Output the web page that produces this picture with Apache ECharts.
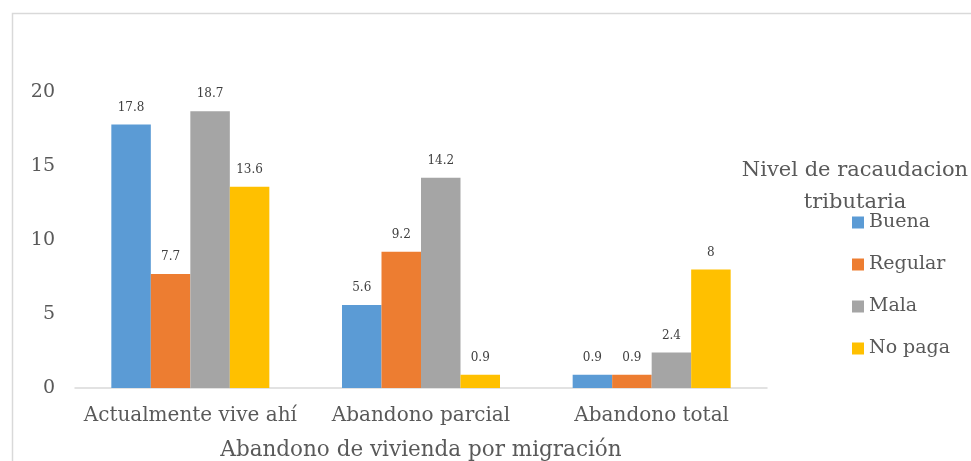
<!DOCTYPE html>
<html>
<head>
<meta charset="utf-8">
<script src="https://cdn.jsdelivr.net/npm/echarts@6/dist/echarts.min.js"></script>
<style>
  html, body { margin: 0; padding: 0; background: #fff; }
  #main { width: 971px; height: 461px; }
</style>
</head>
<body>
<div id="main"></div>
<script>
var categories = ['Actualmente vive ahí', 'Abandono parcial', 'Abandono total'];
var seriesNames = ['Buena', 'Regular', 'Mala', 'No paga'];
var buena = [17.8, 5.6, 0.9];
var regular = [7.7, 9.2, 0.9];
var mala = [18.7, 14.2, 2.4];
var noPaga = [13.6, 0.9, 8];
var colors = ['#5B9BD5', '#ED7D31', '#A5A5A5', '#FFC000'];
var font = 'DejaVu Serif';

var myChart = echarts.init(document.getElementById('main'));

function bar(name, data, color) {
  return {
    name: name,
    type: 'bar',
    data: data,
    barGap: 0,
    barCategoryGap: '31.5%',
    itemStyle: { color: color },
    label: {
      show: true,
      position: 'top',
      distance: 11,
      color: '#404040',
      fontFamily: font,
      fontSize: 12
    }
  };
}

myChart.setOption({
  animation: false,
  title: {
    text: 'Nivel de racaudacion\ntributaria',
    left: 850,
    top: 150,
    textAlign: 'center',
    textStyle: {
      color: '#595959',
      fontFamily: font,
      fontSize: 21,
      fontWeight: 'normal',
      lineHeight: 32
    }
  },
  legend: {
    data: seriesNames,
    orient: 'vertical',
    left: 847,
    top: 208,
    icon: 'rect',
    itemWidth: 12,
    itemHeight: 12,
    itemGap: 23,
    textStyle: { color: '#595959', fontFamily: font, fontSize: 19 }
  },
  grid: { left: 75, right: 204, top: 92, bottom: 73, outerBoundsMode: 'none' },
  xAxis: {
    type: 'category',
    data: categories,
    name: 'Abandono de vivienda por migración',
    nameLocation: 'middle',
    nameGap: 51,
    nameTextStyle: { color: '#595959', fontFamily: font, fontSize: 21.5 },
    axisLine: { lineStyle: { color: '#D9D9D9', width: 1.5 } },
    axisTick: { show: false },
    axisLabel: { interval: 0, color: '#595959', fontFamily: font, fontSize: 20, margin: 18 }
  },
  yAxis: {
    type: 'value',
    min: 0,
    max: 20,
    interval: 5,
    axisLine: { show: false },
    axisTick: { show: false },
    splitLine: { show: false },
    axisLabel: { color: '#595959', fontFamily: font, fontSize: 19, margin: 20, padding: [4, 0, 0, 0] }
  },
  graphic: [{
    type: 'rect',
    shape: { x: 12.5, y: 13.5, width: 980, height: 470 },
    style: { fill: 'none', stroke: '#D9D9D9', lineWidth: 1.5 },
    silent: true
  }],
  series: [
    bar(seriesNames[0], buena, colors[0]),
    bar(seriesNames[1], regular, colors[1]),
    bar(seriesNames[2], mala, colors[2]),
    bar(seriesNames[3], noPaga, colors[3])
  ]
});
</script>
</body>
</html>
